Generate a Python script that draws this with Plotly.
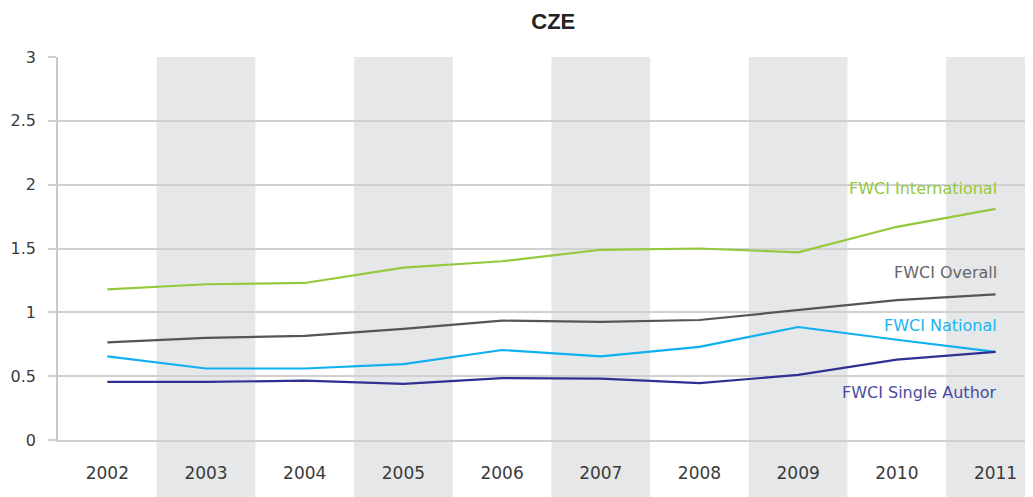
import plotly.graph_objects as go

years = ['2002', '2003', '2004', '2005', '2006', '2007', '2008', '2009', '2010', '2011']
fwci_international = [1.18, 1.22, 1.23, 1.35, 1.40, 1.49, 1.50, 1.47, 1.67, 1.81]
fwci_overall = [0.765, 0.80, 0.815, 0.87, 0.935, 0.925, 0.94, 1.02, 1.095, 1.14]
fwci_national = [0.655, 0.56, 0.56, 0.595, 0.705, 0.655, 0.73, 0.885, 0.785, 0.69]
fwci_single = [0.455, 0.455, 0.465, 0.44, 0.485, 0.48, 0.445, 0.51, 0.63, 0.69]
y_ticks = [0, 0.5, 1, 1.5, 2, 2.5, 3]
y_tick_labels = ['0', '0.5', '1', '1.5', '2', '2.5', '3']

series = [
    ('FWCI International', fwci_international, '#95c93d', '#95c93d', 1.97),
    ('FWCI Overall', fwci_overall, '#555555', '#666666', 1.31),
    ('FWCI National', fwci_national, '#0fb0ef', '#1ab4ef', 0.90),
    ('FWCI Single Author', fwci_single, '#2e3192', '#4a4aa2', 0.375),
]

FONT = 'DejaVu Sans, Liberation Sans, sans-serif'

x = list(range(len(years)))
fig = go.Figure()

# grey bands behind every other year
for i in range(1, len(years), 2):
    fig.add_shape(type='rect', xref='x', yref='paper', x0=i - 0.5, x1=i + 0.5,
                  y0=-0.2, y1=1, fillcolor='#e6e7e9', line_width=0, layer='below')

for name, vals, col, lcol, ly in series:
    fig.add_trace(go.Scatter(x=x, y=vals, mode='lines', name=name,
                             line=dict(color=col, width=2.2), hoverinfo='y'))
    fig.add_annotation(x=x[-1], y=ly, text=name, showarrow=False, xanchor='right',
                       yanchor='middle', xshift=3,
                       font=dict(color=lcol, size=16, family=FONT))

# page body has an 8px margin, so the figure is 8px smaller than the window
fig.update_layout(
    width=1025, height=489,
    margin=dict(l=50, r=0, t=49, b=57),
    paper_bgcolor='white', plot_bgcolor='rgba(0,0,0,0)',
    showlegend=False,
    font=dict(family=FONT, color='#3a3a3a', size=17),
    title=dict(text='<b>CZE</b>', x=0.508, xref='paper', xanchor='center',
               yref='container', y=0.972, yanchor='middle',
               font=dict(size=22, color='#222222', family='Liberation Sans, Arial, sans-serif')),
)
fig.update_xaxes(tickmode='array', tickvals=x, ticktext=years, range=[-0.5, 9.38],
                 showgrid=False, zeroline=False, showline=True, linecolor='#d0d0d0',
                 linewidth=1.5, ticks='', ticklabelstandoff=17, tickfont=dict(size=17))
fig.update_yaxes(tickmode='array', tickvals=y_ticks, ticktext=y_tick_labels, range=[0, 3],
                 showgrid=True, gridcolor='#d0d0d0', gridwidth=1.5, zeroline=False,
                 showline=True, linecolor='#c8c8c8', linewidth=1.5,
                 ticks='outside', ticklen=8, tickcolor='#d0d0d0', tickwidth=1.5,
                 ticklabelstandoff=9, tickfont=dict(size=16))

fig.write_html('out.html')
